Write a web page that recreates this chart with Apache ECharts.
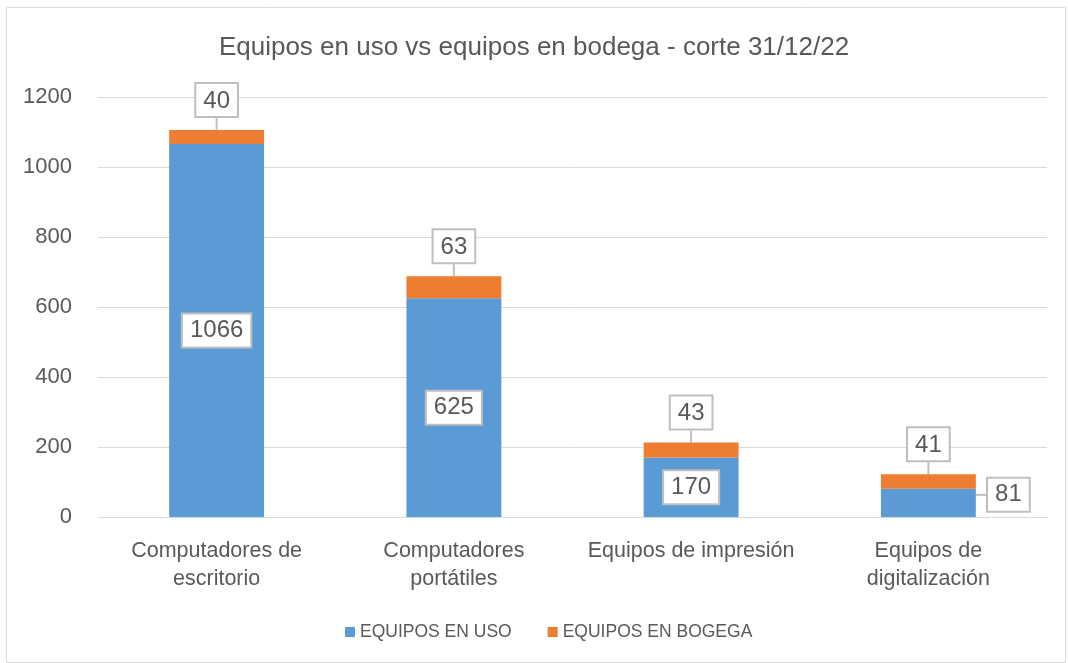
<!DOCTYPE html>
<html>
<head>
<meta charset="utf-8">
<script src="https://cdn.jsdelivr.net/npm/echarts@6/dist/echarts.min.js"></script>
<style>html,body{margin:0;padding:0;background:#fff}#c{width:1068px;height:663px}</style>
</head>
<body>
<div id="c"></div>
<script>
const categories = ['Computadores de\nescritorio', 'Computadores\nportátiles', 'Equipos de impresión', 'Equipos de\ndigitalización'];
const enUso = [1066, 625, 170, 81];
const enBodega = [40, 63, 43, 41];
const seriesNames = ['EQUIPOS EN USO', 'EQUIPOS EN BOGEGA'];
const yTicks = [0, 200, 400, 600, 800, 1000, 1200];

const FONT = 'Liberation Sans, Arial, sans-serif';
const TXT = '#595959';
const boxLabel = {
  show: true,
  color: TXT,
  fontSize: 24,
  fontFamily: FONT,
  backgroundColor: '#fff',
  borderColor: '#bfbfbf',
  borderWidth: 2,
  padding: [5, 7, 3, 7]
};

const chart = echarts.init(document.getElementById('c'));
chart.setOption({
  animation: false,
  textStyle: { fontFamily: FONT },
  title: {
    text: 'Equipos en uso vs equipos en bodega - corte 31/12/22',
    left: 'center', top: 30,
    textStyle: { color: TXT, fontSize: 26, fontWeight: 'normal', fontFamily: FONT }
  },
  graphic: [{
    type: 'rect', left: 4, top: 5,
    shape: { width: 1059, height: 655 },
    style: { fill: 'none', stroke: '#d9d9d9', lineWidth: 1 }, silent: true
  }],
  legend: {
    bottom: 17, left: 340, itemWidth: 10, itemHeight: 10, itemGap: 36,
    icon: 'rect',
    textStyle: { color: TXT, fontSize: 17.5, fontFamily: FONT },
    data: seriesNames
  },
  grid: { left: 98, right: 21, top: 97, bottom: 146 },
  xAxis: {
    type: 'category', data: categories,
    axisLine: { lineStyle: { color: '#d9d9d9' } },
    axisTick: { show: false },
    axisLabel: { color: TXT, fontSize: 21.5, fontFamily: FONT, margin: 20, lineHeight: 28, interval: 0 }
  },
  yAxis: {
    type: 'value', min: yTicks[0], max: yTicks[yTicks.length - 1], interval: 200,
    axisLine: { show: false }, axisTick: { show: false },
    axisLabel: { color: TXT, fontSize: 22, fontFamily: FONT, margin: 26, formatter: v => String(v) },
    splitLine: { lineStyle: { color: '#d9d9d9', width: 1 } }
  },
  series: [
    {
      name: seriesNames[0], type: 'bar', stack: 'total', barWidth: '40%',
      itemStyle: { color: '#5b9bd5' },
      data: enUso,
      label: Object.assign({}, boxLabel, { position: 'inside' }),
      labelLayout: p => p.dataIndex === 3 ? { dx: 80, dy: -8 } : {},
      labelLine: { show: true, lineStyle: { color: '#bfbfbf', width: 2 } }
    },
    {
      name: seriesNames[1], type: 'bar', stack: 'total', barWidth: '40%',
      itemStyle: { color: '#ed7d31' },
      data: enBodega,
      label: Object.assign({}, boxLabel, { position: 'top', distance: 0 }),
      labelLayout: { dy: -14 },
      labelLine: { show: true, lineStyle: { color: '#bfbfbf', width: 2 } }
    }
  ]
});
</script>
</body>
</html>
